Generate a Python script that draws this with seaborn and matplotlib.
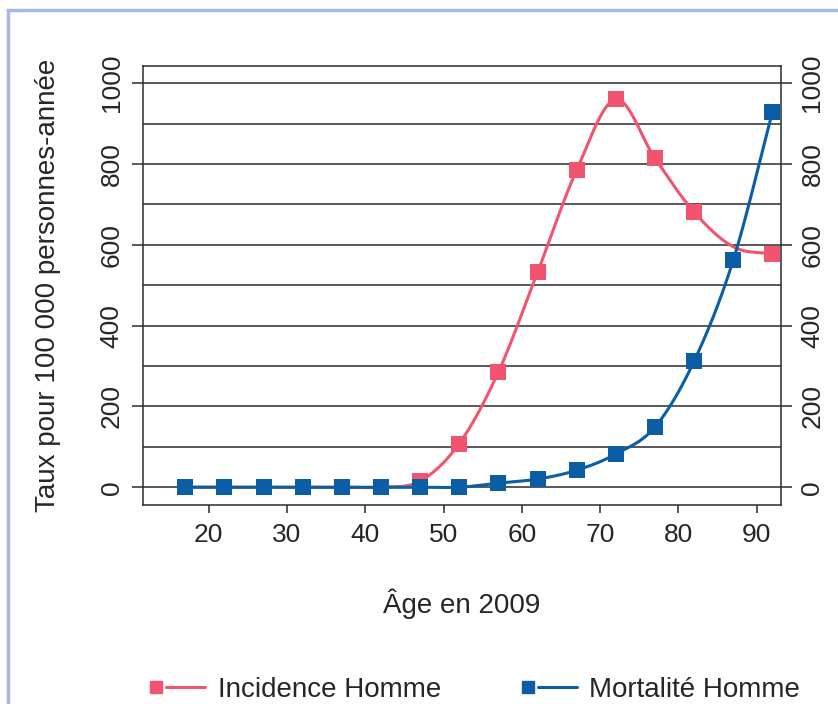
import numpy as np
import pandas as pd
import matplotlib
matplotlib.use("Agg")
import matplotlib.pyplot as plt
import seaborn as sns
from matplotlib.lines import Line2D
from matplotlib.patches import Rectangle
from matplotlib.legend_handler import HandlerTuple

# data
ages = [17, 22, 27, 32, 37, 42, 47, 52, 57, 62, 67, 72, 77, 82, 87, 92]
incidence = [0, 0, 0, 0, 0, 0, 15, 108, 285, 532, 785, 960, 814, 681, 595, 577]
mortalite = [0, 0, 0, 0, 0, 0, 0, 0, 10, 20, 42, 82, 149, 312, 562, 928]
# the incidence marker at 87 is not visible in the reference (hidden by the other series)
incidence_hidden = [87]
y_ticks = [0, 200, 400, 600, 800, 1000]
x_ticks = [20, 30, 40, 50, 60, 70, 80, 90]

RED = "#f0546f"
BLUE = "#0b5ea6"


def smooth(x, y, n=20):
    """Catmull-Rom curve through the points (like a spreadsheet smoothed line)"""
    x = np.asarray(x, float)
    y = np.asarray(y, float)
    px = np.concatenate([[2 * x[0] - x[1]], x, [2 * x[-1] - x[-2]]])
    py = np.concatenate([[2 * y[0] - y[1]], y, [2 * y[-1] - y[-2]]])
    xs, ys = [], []
    t = np.linspace(0, 1, n, endpoint=False)
    for i in range(1, len(px) - 2):
        for p, out in ((px, xs), (py, ys)):
            p0, p1, p2, p3 = p[i - 1], p[i], p[i + 1], p[i + 2]
            out.extend(0.5 * ((2 * p1) + (-p0 + p2) * t
                              + (2 * p0 - 5 * p1 + 4 * p2 - p3) * t ** 2
                              + (-p0 + 3 * p1 - 3 * p2 + p3) * t ** 3))
    xs.append(x[-1])
    ys.append(y[-1])
    return np.array(xs), np.array(ys)


sns.set_theme(style="white")
plt.rcParams["font.family"] = ["Liberation Sans", "DejaVu Sans"]

TICK_FS = 19
LABEL_FS = 20

fig = plt.figure(figsize=(8.38, 7.04), dpi=100)
ax = fig.add_axes([0.1706, 0.2827, 0.932 - 0.1706, 0.906 - 0.2827])

# light blue frame around the figure
fig.patches.append(Rectangle((0.0095, -0.2), 1.3, 1.2 - 10 / 704 + 0.0005,
                             transform=fig.transFigure, fill=False,
                             edgecolor="#a9b8e2", lw=2.5, zorder=0))

ax.set_xlim(11.6, 93.1)
ax.set_ylim(-44, 1042)

# grid lines every 100
ax.set_yticks(y_ticks)
ax.set_yticks([100, 300, 500, 700, 900], minor=True)
ax.grid(True, which="both", axis="y", color="#2b2b2b", lw=1.1, zorder=1)
ax.set_axisbelow(True)

inc = pd.DataFrame({"age": ages, "taux": incidence})
mor = pd.DataFrame({"age": ages, "taux": mortalite})
inc_pts = inc[~inc["age"].isin(incidence_hidden)]

for df, pts, color in ((inc, inc_pts, RED), (mor, mor, BLUE)):
    sx, sy = smooth(df["age"], df["taux"])
    sns.lineplot(x=sx, y=sy, ax=ax, color=color, lw=2.2, sort=False,
                 estimator=None, zorder=3)
    sns.scatterplot(data=pts, x="age", y="taux", ax=ax, color=color,
                    marker="s", s=120, linewidth=0, zorder=4)

spine_col = "#2b2b2b"
for s in ax.spines.values():
    s.set_color(spine_col)
    s.set_linewidth(1.1)

ax.set_xticks(x_ticks)
ax.tick_params(axis="x", which="major", direction="out", length=6, width=1.1,
               color=spine_col, labelsize=TICK_FS, pad=7, bottom=True)
ax.tick_params(axis="y", which="major", direction="out", length=8, width=1.1,
               color=spine_col, labelsize=TICK_FS, pad=6, left=True)
ax.tick_params(axis="y", which="minor", length=0)
for lab in ax.get_yticklabels():
    lab.set_rotation(90)
    lab.set_va("center")

ax2 = ax.twinx()
ax2.set_ylim(ax.get_ylim())
ax2.set_yticks(y_ticks)
ax2.grid(False)
for s in ax2.spines.values():
    s.set_visible(False)
ax2.tick_params(axis="y", direction="out", length=8, width=1.1, color=spine_col,
                labelsize=TICK_FS, pad=6, right=True)
for lab in ax2.get_yticklabels():
    lab.set_rotation(90)
    lab.set_va("center")

ax.set_xlabel("Âge en 2009", fontsize=LABEL_FS, labelpad=30)
ax.set_ylabel("Taux pour 100 000 personnes-année", fontsize=LABEL_FS,
              labelpad=28)
ax.set_xlabel("Âge en 2009", fontsize=LABEL_FS, labelpad=30)


# legend handle: small square, then a short line
def handle(color):
    return (Line2D([], [], color=color, marker="s", ls="none", markersize=8),
            Line2D([], [], color=color, lw=2.2),
            Line2D([], [], color=color, lw=2.2))


fig.legend([handle(RED), handle(BLUE)], ["Incidence Homme", "Mortalité Homme"],
           handler_map={tuple: HandlerTuple(ndivide=None, pad=0.0)},
           loc="center", bbox_to_anchor=(0.565, 0.02), ncol=2, frameon=False,
           fontsize=LABEL_FS, handlelength=2.1, columnspacing=2.8,
           handletextpad=0.45)

fig.savefig("out.png", dpi=100)
